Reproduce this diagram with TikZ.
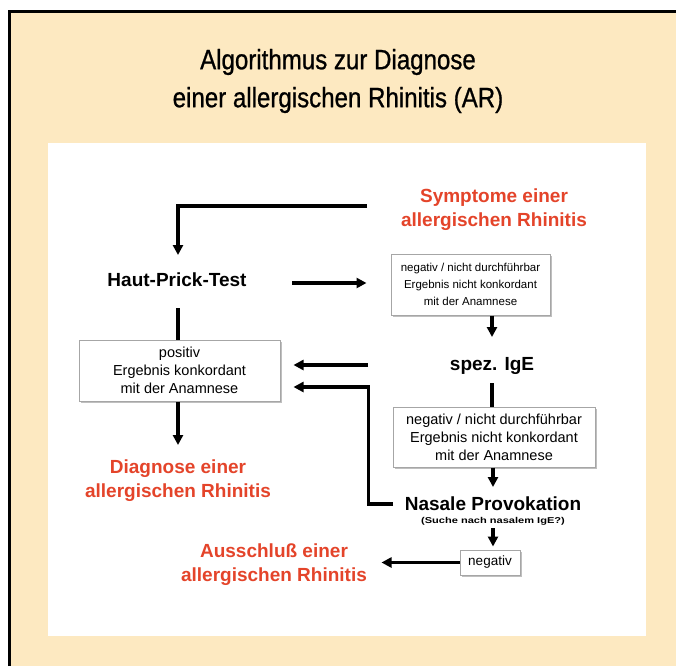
\documentclass[tikz,border=0pt]{standalone}
\usepackage{fontspec}
\setmainfont{Liberation Sans}
\newfontfamily\titlefont[FakeStretch=0.86,FakeBold=0.8]{Liberation Sans}
\newfontfamily\tinyfont[FakeStretch=1.3]{Liberation Sans}
\usetikzlibrary{arrows.meta,calc,shadows}
\definecolor{bgpeach}{RGB}{253,233,193}
\definecolor{redtxt}{RGB}{228,68,42}
\begin{document}
\begin{tikzpicture}[x=1pt,y=-1pt,
  arr/.style={line width=3.2pt,-{Triangle[length=10pt,width=10pt]}},
  plainline/.style={line width=3.2pt},
  redlbl/.style={text=redtxt,font=\fontsize{19}{24}\selectfont\bfseries,align=center,inner sep=0pt},
  blacklbl/.style={font=\fontsize{19}{22}\selectfont\bfseries,inner sep=0pt},
  infobox/.style={draw=black!35,line width=1pt,fill=white,align=center,inner sep=0pt,
    drop shadow={shadow xshift=1.5pt,shadow yshift=-1.5pt,fill=black!25,opacity=1}},
  smallbox/.style={infobox,font=\fontsize{11.5}{17}\selectfont},
  bigbox/.style={infobox,font=\fontsize{14.5}{18}\selectfont}
]
\useasboundingbox (0,0) rectangle (676,666);
\fill[bgpeach] (8,10) rectangle (676,666);
\draw[line width=3pt] (9.5,666) -- (9.5,11.5) -- (676,11.5);
\fill[white] (48,143) rectangle (646,636);

\node[font=\titlefont\fontsize{28}{38}\selectfont,align=center,inner sep=0pt] (title) at (338,81)
  {Algorithmus zur Diagnose\\einer allergischen Rhinitis (AR)};

\node[redlbl] (sym) at (494,210) {Symptome einer\\allergischen Rhinitis};
\node[blacklbl] (haut) at (177,280) {Haut-Prick-Test};
\node[smallbox,minimum width=159pt,minimum height=61pt] (box1) at (470.5,284.5)
  {negativ / nicht durchführbar\\Ergebnis nicht konkordant\\mit der Anamnese};
\node[bigbox,minimum width=201pt,minimum height=61pt] (pos) at (179.5,370.5)
  {positiv\\Ergebnis konkordant\\mit der Anamnese};
\node[blacklbl] (ige) at (492,366) {spez. IgE};
\node[bigbox,minimum width=202pt,minimum height=60pt] (box2) at (494,437)
  {negativ / nicht durchführbar\\Ergebnis nicht konkordant\\mit der Anamnese};
\node[blacklbl] (nas) at (493,504) {Nasale Provokation};
\node[font=\tinyfont\fontsize{8.5}{10}\selectfont\bfseries,inner sep=0pt] (such) at (493,521) {(Suche nach nasalem IgE?)};
\node[infobox,font=\fontsize{13.5}{16}\selectfont,minimum width=60pt,minimum height=25pt] (neg) at (490,562.5) {negativ};
\node[redlbl] (diag) at (178,481) {Diagnose einer\\allergischen Rhinitis};
\node[redlbl] (aus) at (274,565) {Ausschluß einer\\allergischen Rhinitis};

\draw[arr] ($(sym.center)+(-127,-4)$) -| ($(haut.center)+(1,-25)$);
\draw[arr] ($(haut.center)+(115,3)$) -- ($(box1.west)+(-24,-1.5)$);
\draw[arr] (box1.south -| ige) -- ($(ige.center)+(0,-29)$);
\draw[plainline] ($(haut.center)+(1,28)$) -- (pos.north -| 178,0);
\draw[arr] ($(ige.center)+(-124,-1)$) -- ($(pos.east)+(13,-5.5)$);
\draw[plainline] ($(ige.center)+(0,17)$) -- (box2.north -| ige);
\draw[arr] (box2.south -| nas) -- ($(nas.center)+(0,-17)$);
\draw[arr] ($(nas.center)+(-100,0)$) -| ($(pos.east)+(88,16.5)$) -- ($(pos.east)+(13,16.5)$);
\draw[arr] (pos.south -| 178,0) -- ($(diag.center)+(0,-36)$);
\draw[arr] ($(such.center)+(0,7)$) -- ($(neg.north -| such)+(0,-3)$);
\draw[arr] (neg.west) -- ($(neg.west)+(-78,0)$);
\end{tikzpicture}
\end{document}
